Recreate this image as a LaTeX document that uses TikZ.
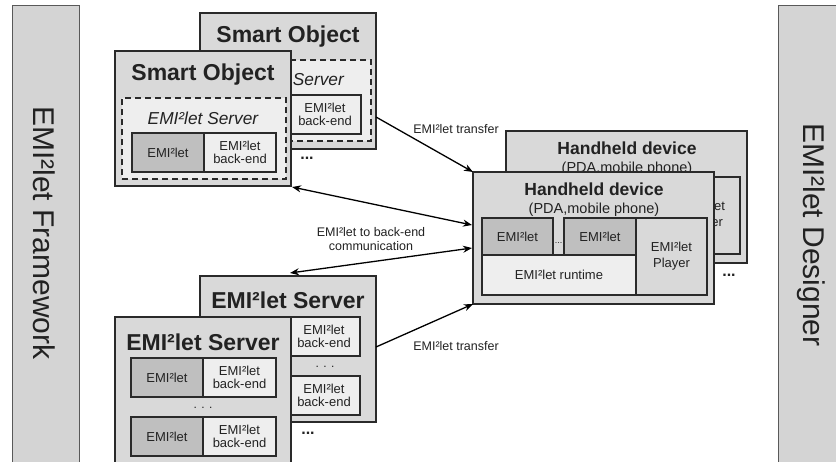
\documentclass[tikz,border=0pt]{standalone}
\usepackage{fontspec}
\setmainfont{Liberation Sans}
\usetikzlibrary{arrows.meta}
\definecolor{barfill}{HTML}{D4D4D4}
\definecolor{boxfill}{HTML}{D9D9D9}
\definecolor{lightfill}{HTML}{EEEEEE}
\definecolor{darkcell}{HTML}{BFBFBF}
\definecolor{linecol}{HTML}{2A2A2A}
\definecolor{textcol}{HTML}{222222}
\tikzset{
  rectbox/.style={draw=linecol, anchor=north west, inner sep=0pt, outer sep=0pt},
  outerbox/.style={rectbox, fill=boxfill, line width=1.6pt},
  dashbox/.style={rectbox, fill=lightfill, line width=1.3pt, dash pattern=on 6pt off 4pt},
  darkbox/.style={rectbox, fill=darkcell, line width=1.3pt},
  lightbox/.style={rectbox, fill=lightfill, line width=1.3pt},
  midbox/.style={rectbox, fill=boxfill, line width=1.3pt},
  barbox/.style={draw=black!65, fill=barfill, line width=0.9pt, anchor=north west, inner sep=0pt},
  bartext/.style={rotate=-90, font=\fontsize{30}{32}\selectfont, text=textcol},
  bigtitle/.style={font=\fontsize{23}{25}\selectfont\bfseries, text=textcol, inner sep=0pt},
  hhtitle/.style={font=\fontsize{17.5}{19}\selectfont\bfseries, text=textcol, inner sep=0pt},
  hhsub/.style={font=\fontsize{14.5}{16}\selectfont, text=textcol, inner sep=0pt},
  itext/.style={font=\fontsize{17.3}{19}\selectfont\itshape, text=textcol, inner sep=0pt},
  small/.style={font=\fontsize{13}{15}\selectfont, text=textcol, align=center, inner sep=0pt},
  lbl/.style={font=\fontsize{12.5}{14.5}\selectfont, text=textcol, align=center, inner sep=0pt},
  dots/.style={font=\fontsize{16}{16}\selectfont\bfseries, text=textcol, inner sep=0pt},
  conn/.style={line width=1.3pt, draw=black},
  tip/.style={-{Stealth[length=9pt,width=7pt]}},
  dtip/.style={{Stealth[length=9pt,width=7pt]}-{Stealth[length=9pt,width=7pt]}},
}
\begin{document}
\begin{tikzpicture}[x=1pt,y=-1pt]
\useasboundingbox (0,0) rectangle (836,461);
\clip (0,0) rectangle (836,461);
\fill[white] (0,0) rectangle (836,461);

% side bars
\node[barbox, minimum width=67pt, minimum height=470pt] (lbar) at (12,5) {};
\node[bartext] (ltxt) at (44,233) {EMI²let Framework};
\node[barbox, minimum width=70pt, minimum height=470pt] (rbar) at (778,5) {};
\node[bartext] (rtxt) at (811,235) {EMI²let Designer};

% ---------- back smart object ----------
\node[outerbox, minimum width=176pt, minimum height=136pt] (so2) at (200,13) {};
\node[bigtitle] (so2t) at (288,37) {Smart Object};
\node[dashbox, minimum width=164pt, minimum height=81pt] (so2d) at (207,60) {};
\node[itext, anchor=east] (so2s) at (344,80) {Server};
\node[darkbox, minimum width=72pt, minimum height=39pt] (so2c) at (217,95) {};
\node[lightbox, minimum width=72pt, minimum height=39pt] (so2b) at (289,95) {};
\node[small] at (so2b.center) {EMI²let\\[-2pt]back-end};

% ---------- front smart object ----------
\node[outerbox, minimum width=176pt, minimum height=135pt] (so1) at (115,51) {};
\node[bigtitle] (so1t) at (203,75) {Smart Object};
\node[dashbox, minimum width=164pt, minimum height=81pt] (so1d) at (122,98) {};
\node[itext] (so1s) at (203,118) {EMI²let Server};
\node[darkbox, minimum width=72pt, minimum height=39pt] (so1c) at (132,133) {};
\node[small] at (so1c.center) {EMI²let};
\node[lightbox, minimum width=72pt, minimum height=39pt] (so1b) at (204,133) {};
\node[small] at (so1b.center) {EMI²let\\[-2pt]back-end};
\node[dots] (so1dots) at (307,158) {...};

% ---------- back handheld ----------
\node[outerbox, minimum width=241pt, minimum height=132pt] (hh2) at (506,131) {};
\node[hhtitle] (hh2t) at (627,148) {Handheld device};
\node[hhsub] (hh2s) at (627,169) {(PDA,mobile phone)};
\node[darkbox, minimum width=71pt, minimum height=37pt] (hh2c1) at (515,177) {};
\node[darkbox, minimum width=72pt, minimum height=37pt] (hh2c2) at (597,177) {};
\node[lightbox, minimum width=154pt, minimum height=40pt] (hh2r) at (515,214) {};
\node[midbox, minimum width=71pt, minimum height=77pt] (hh2p) at (669,177) {};
\node[small] at (hh2p.center) {EMI²let\\[1pt]Player};

% ---------- front handheld ----------
\node[outerbox, minimum width=241pt, minimum height=132pt] (hh1) at (473,172) {};
\node[hhtitle] (hh1t) at (594,189) {Handheld device};
\node[hhsub] (hh1s) at (594,210) {(PDA,mobile phone)};
\node[darkbox, minimum width=71pt, minimum height=37pt] (hh1c1) at (482,218) {};
\node[small] at (hh1c1.center) {EMI²let};
\node[darkbox, minimum width=72pt, minimum height=37pt] (hh1c2) at (564,218) {};
\node[small] at (hh1c2.center) {EMI²let};
\node[font=\fontsize{9}{9}\selectfont, text=textcol, inner sep=0pt] (hh1m) at (558.5,243) {...};
\node[lightbox, minimum width=154pt, minimum height=40pt] (hh1r) at (482,255) {};
\node[small] at (hh1r.center) {EMI²let runtime};
\node[midbox, minimum width=71pt, minimum height=77pt] (hh1p) at (636,218) {};
\node[small] at (hh1p.center) {EMI²let\\[1pt]Player};
\node[dots] (hh1dots) at (729,275) {...};

% ---------- back server ----------
\node[outerbox, minimum width=176pt, minimum height=146pt] (sv2) at (200,276) {};
\node[bigtitle] (sv2t) at (288,300) {EMI²let Server};
\node[darkbox, minimum width=72pt, minimum height=39pt] (sv2c1) at (216,317) {};
\node[lightbox, minimum width=72pt, minimum height=39pt] (sv2b1) at (288,317) {};
\node[small] at (sv2b1.center) {EMI²let\\[-2pt]back-end};
\node[dots, font=\fontsize{12}{12}\selectfont] (sv2dots) at (325,367) {. . .};
\node[darkbox, minimum width=72pt, minimum height=39pt] (sv2c2) at (216,376) {};
\node[lightbox, minimum width=72pt, minimum height=39pt] (sv2b2) at (288,376) {};
\node[small] at (sv2b2.center) {EMI²let\\[-2pt]back-end};

% ---------- front server ----------
\node[outerbox, minimum width=176pt, minimum height=150pt] (sv1) at (115,317) {};
\node[bigtitle] (sv1t) at (203,342) {EMI²let Server};
\node[darkbox, minimum width=72pt, minimum height=39pt] (sv1c1) at (131,358) {};
\node[small] at (sv1c1.center) {EMI²let};
\node[lightbox, minimum width=73pt, minimum height=39pt] (sv1b1) at (203,358) {};
\node[small] at (sv1b1.center) {EMI²let\\[-2pt]back-end};
\node[dots, font=\fontsize{12}{12}\selectfont] (sv1dots) at (203,408) {. . .};
\node[darkbox, minimum width=72pt, minimum height=39pt] (sv1c2) at (131,417) {};
\node[small] at (sv1c2.center) {EMI²let};
\node[lightbox, minimum width=73pt, minimum height=39pt] (sv1b2) at (203,417) {};
\node[small] at (sv1b2.center) {EMI²let\\[-2pt]back-end};
\node[dots] (sv1dots2) at (308,433) {...};

% ---------- connectors ----------
\coordinate (a1s) at (376,117);
\coordinate (a2s) at (292,187);
\coordinate (a2e) at (472,225);
\coordinate (a3s) at (290,273);
\coordinate (a3e) at (472,248);
\coordinate (a4s) at (376,347);

\draw[conn, tip] (a1s) -- (hh1.north west);
\draw[conn, dtip] (a2s) -- (a2e);
\draw[conn, dtip] (a3s) -- (a3e);
\draw[conn, tip] (a4s) -- (hh1.south west);

\node[lbl] (l1) at (456,129) {EMI²let transfer};
\node[lbl] (l2) at (371,239) {EMI²let to back-end\\communication};
\node[lbl] (l3) at (456,346) {EMI²let transfer};
\end{tikzpicture}
\end{document}
